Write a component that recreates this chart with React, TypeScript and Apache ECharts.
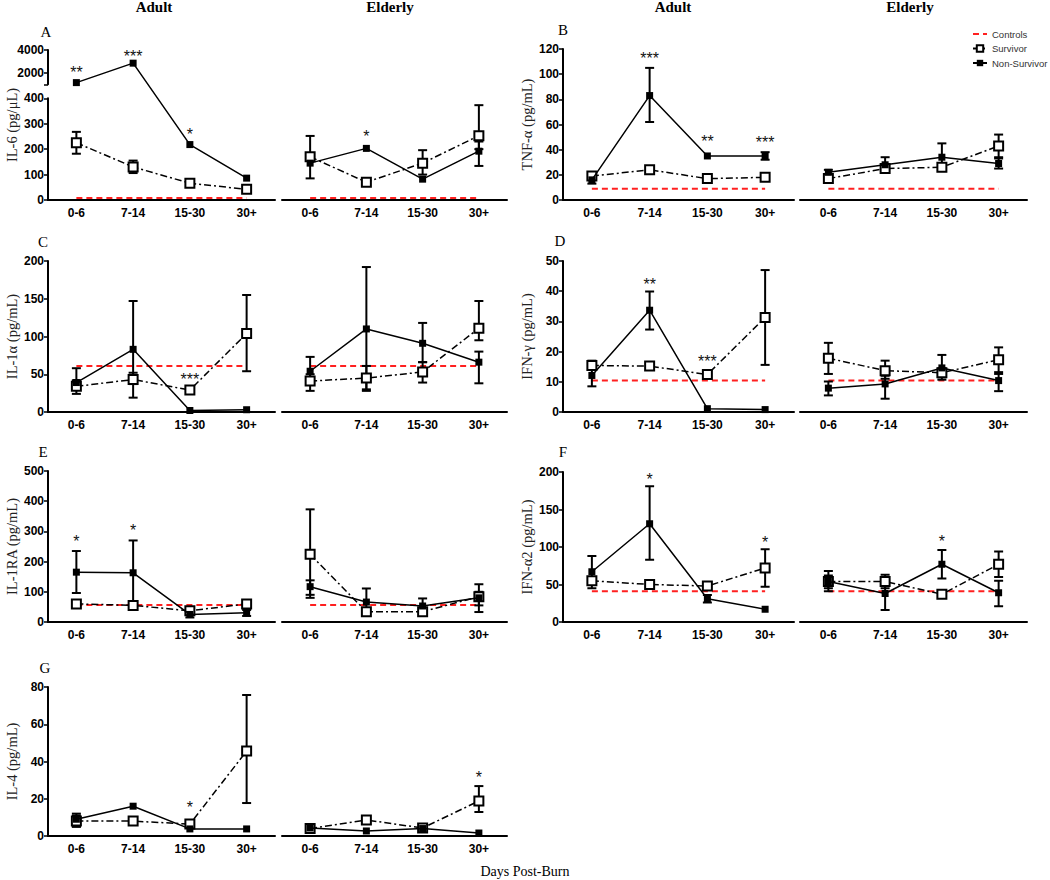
import React, { useEffect, useRef } from 'react';
import * as echarts from 'echarts';

const categories = ['0-6', '7-14', '15-30', '30+'];

// A: IL-6 (broken axis)
const il6AdultSurvivor = [225, 130, 66, 42];
const il6AdultSurvivorErr = [[182, 268], [106, 155], null, null];
const il6AdultNonSurvivor = [1150, 2850, 218, 86];
const il6AdultNonSurvivorErr = [null, null, null, null];
const il6AdultStars = [[0, 2400, '**'], [1, 3800, '***'], [2, 275, '*']];
const il6ElderlySurvivor = [170, 70, 145, 253];
const il6ElderlySurvivorErr = [[85, 252], [62, 80], [100, 196], [200, 373]];
const il6ElderlyNonSurvivor = [145, 203, 82, 192];
const il6ElderlyNonSurvivorErr = [null, null, null, [134, 230]];
const il6ElderlyStars = [[1, 265, '*']];
const il6Control = 8;

// B: TNF-alpha
const tnfAdultSurvivor = [19, 24, 17, 18];
const tnfAdultSurvivorErr = [[16, 22], [21, 26], null, null];
const tnfAdultNonSurvivor = [16, 83, 35, 35];
const tnfAdultNonSurvivorErr = [[13, 20], [62, 105], null, [32, 38]];
const tnfAdultStars = [[1, 116, '***'], [2, 50, '**'], [3, 49, '***']];
const tnfElderlySurvivor = [17, 25, 26, 43];
const tnfElderlySurvivorErr = [[15, 19], [22, 28], [23, 29], [34, 52]];
const tnfElderlyNonSurvivor = [22, 28, 34, 29];
const tnfElderlyNonSurvivorErr = [[20, 24], [22, 34], [25, 45], [25, 33]];
const tnfElderlyStars = [];
const tnfControl = 9;

// C: IL-1alpha
const il1aAdultSurvivor = [34, 43, 29, 104];
const il1aAdultSurvivorErr = [[24, 42], [37, 52], [27, 31], [54, 155]];
const il1aAdultNonSurvivor = [39, 83, 2, 3];
const il1aAdultNonSurvivorErr = [[30, 58], [19, 147], null, null];
const il1aAdultStars = [[2, 49, '***']];
const il1aElderlySurvivor = [41, 45, 53, 111];
const il1aElderlySurvivorErr = [[28, 50], [30, 61], [39, 66], [95, 147]];
const il1aElderlyNonSurvivor = [54, 110, 91, 66];
const il1aElderlyNonSurvivorErr = [[45, 73], [28, 192], [66, 118], [38, 80]];
const il1aElderlyStars = [];
const il1aControl = 61;

// D: IFN-gamma
const ifngAdultSurvivor = [15.4, 15.2, 12.4, 31.3];
const ifngAdultSurvivorErr = [[14, 17], [14, 16.5], [11, 13.8], [15.6, 47]];
const ifngAdultNonSurvivor = [12.1, 33.7, 1.1, 0.8];
const ifngAdultNonSurvivorErr = [[8.5, 14], [27.3, 39.9], null, null];
const ifngAdultStars = [[1, 43.5, '**'], [2, 18, '***']];
const ifngElderlySurvivor = [17.8, 13.7, 13, 17.3];
const ifngElderlySurvivorErr = [[12.6, 22.9], [11, 17], [11.5, 14.5], [13.2, 21.4]];
const ifngElderlyNonSurvivor = [7.9, 9.3, 14.6, 10.4];
const ifngElderlyNonSurvivorErr = [[5.5, 10.1], [4.4, 12], [10.7, 18.9], [6.9, 12.6]];
const ifngElderlyStars = [];
const ifngControl = 10.4;

// E: IL-1RA
const il1raAdultSurvivor = [60, 55, 37, 60];
const il1raAdultSurvivorErr = [[55, 66], [50, 58], [30, 42], [55, 65]];
const il1raAdultNonSurvivor = [165, 163, 25, 31];
const il1raAdultNonSurvivorErr = [[96, 235], [55, 270], [15, 35], [20, 40]];
const il1raAdultStars = [[0, 279, '*'], [1, 317, '*']];
const il1raElderlySurvivor = [224, 34, 34, 84];
const il1raElderlySurvivorErr = [[80, 373], [28, 40], [28, 40], [33, 125]];
const il1raElderlyNonSurvivor = [117, 66, 53, 80];
const il1raElderlyNonSurvivorErr = [[90, 138], [40, 111], [40, 78], [55, 100]];
const il1raElderlyStars = [];
const il1raControl = 56;

// F: IFN-alpha2
const ifna2AdultSurvivor = [55, 50, 48, 72];
const ifna2AdultSurvivorErr = [[45, 60], [46, 54], [44, 52], [47, 97]];
const ifna2AdultNonSurvivor = [67, 131, 31, 17];
const ifna2AdultNonSurvivorErr = [[50, 88], [83, 181], [26, 36], null];
const ifna2AdultStars = [[1, 196, '*'], [3, 112, '*']];
const ifna2ElderlySurvivor = [54, 54, 37, 77];
const ifna2ElderlySurvivorErr = [[41, 68], [45, 63], [34, 40], [60, 94]];
const ifna2ElderlyNonSurvivor = [54, 38, 77, 39];
const ifna2ElderlyNonSurvivorErr = [[45, 62], [16, 50], [58, 96], [21, 55]];
const ifna2ElderlyStars = [[2, 113, '*']];
const ifna2Control = 41;

// G: IL-4
const il4AdultSurvivor = [8, 8, 6.4, 45.6];
const il4AdultSurvivorErr = [[5, 11], [6.5, 9.5], [4.5, 8], [17.7, 75.7]];
const il4AdultNonSurvivor = [9, 16, 3.8, 3.8];
const il4AdultNonSurvivorErr = [[5, 12], null, null, null];
const il4AdultStars = [[2, 17.7, '*']];
const il4ElderlySurvivor = [4, 8.6, 4.3, 18.8];
const il4ElderlySurvivorErr = [null, [6.5, 10.5], null, [12.9, 26.8]];
const il4ElderlyNonSurvivor = [4.3, 2.7, 4, 1.6];
const il4ElderlyNonSurvivorErr = [null, null, null, null];
const il4ElderlyStars = [[3, 33.8, '*']];
const il4Control = null;

// Broken axis mapping for IL-6 (lower segment 0-400 linear, upper 1000-4000 compressed)
function tA(v: number) {
  return v <= 400 ? v : 455 + (v - 1000) * 0.045;
}
const ident = (v: number) => v;

const SANS = '"Liberation Sans", Arial, sans-serif';
const SERIF = '"Liberation Serif", "Times New Roman", serif';

const COLS = [
  { left: 48, width: 227 },
  { left: 282, width: 225 },
  { left: 563, width: 231 },
  { left: 800, width: 227 },
];

type Panel = {
  col: number; top: number; height: number; min: number; max: number; interval: number;
  name: string; adult: boolean; broken?: boolean;
  surv: number[]; survErr: any[]; ns: number[]; nsErr: any[]; ctrl: number | null; stars: any[];
};

const panels: Panel[] = [
  { col: 0, top: 50, height: 150, min: 0, max: 590, interval: 100, name: 'IL-6 (pg/μL)', adult: true, broken: true,
    surv: il6AdultSurvivor, survErr: il6AdultSurvivorErr, ns: il6AdultNonSurvivor, nsErr: il6AdultNonSurvivorErr, ctrl: il6Control, stars: il6AdultStars },
  { col: 1, top: 50, height: 150, min: 0, max: 590, interval: 100, name: '', adult: false, broken: true,
    surv: il6ElderlySurvivor, survErr: il6ElderlySurvivorErr, ns: il6ElderlyNonSurvivor, nsErr: il6ElderlyNonSurvivorErr, ctrl: il6Control, stars: il6ElderlyStars },
  { col: 2, top: 49, height: 151, min: 0, max: 120, interval: 20, name: 'TNF-α (pg/mL)', adult: true,
    surv: tnfAdultSurvivor, survErr: tnfAdultSurvivorErr, ns: tnfAdultNonSurvivor, nsErr: tnfAdultNonSurvivorErr, ctrl: tnfControl, stars: tnfAdultStars },
  { col: 3, top: 49, height: 151, min: 0, max: 120, interval: 20, name: '', adult: false,
    surv: tnfElderlySurvivor, survErr: tnfElderlySurvivorErr, ns: tnfElderlyNonSurvivor, nsErr: tnfElderlyNonSurvivorErr, ctrl: tnfControl, stars: tnfElderlyStars },
  { col: 0, top: 261, height: 151, min: 0, max: 200, interval: 50, name: 'IL-1α (pg/mL)', adult: true,
    surv: il1aAdultSurvivor, survErr: il1aAdultSurvivorErr, ns: il1aAdultNonSurvivor, nsErr: il1aAdultNonSurvivorErr, ctrl: il1aControl, stars: il1aAdultStars },
  { col: 1, top: 261, height: 151, min: 0, max: 200, interval: 50, name: '', adult: false,
    surv: il1aElderlySurvivor, survErr: il1aElderlySurvivorErr, ns: il1aElderlyNonSurvivor, nsErr: il1aElderlyNonSurvivorErr, ctrl: il1aControl, stars: il1aElderlyStars },
  { col: 2, top: 261, height: 151, min: 0, max: 50, interval: 10, name: 'IFN-γ (pg/mL)', adult: true,
    surv: ifngAdultSurvivor, survErr: ifngAdultSurvivorErr, ns: ifngAdultNonSurvivor, nsErr: ifngAdultNonSurvivorErr, ctrl: ifngControl, stars: ifngAdultStars },
  { col: 3, top: 261, height: 151, min: 0, max: 50, interval: 10, name: '', adult: false,
    surv: ifngElderlySurvivor, survErr: ifngElderlySurvivorErr, ns: ifngElderlyNonSurvivor, nsErr: ifngElderlyNonSurvivorErr, ctrl: ifngControl, stars: ifngElderlyStars },
  { col: 0, top: 471, height: 151, min: 0, max: 500, interval: 100, name: 'IL-1RA (pg/mL)', adult: true,
    surv: il1raAdultSurvivor, survErr: il1raAdultSurvivorErr, ns: il1raAdultNonSurvivor, nsErr: il1raAdultNonSurvivorErr, ctrl: il1raControl, stars: il1raAdultStars },
  { col: 1, top: 471, height: 151, min: 0, max: 500, interval: 100, name: '', adult: false,
    surv: il1raElderlySurvivor, survErr: il1raElderlySurvivorErr, ns: il1raElderlyNonSurvivor, nsErr: il1raElderlyNonSurvivorErr, ctrl: il1raControl, stars: il1raElderlyStars },
  { col: 2, top: 472, height: 150, min: 0, max: 200, interval: 50, name: 'IFN-α2 (pg/mL)', adult: true,
    surv: ifna2AdultSurvivor, survErr: ifna2AdultSurvivorErr, ns: ifna2AdultNonSurvivor, nsErr: ifna2AdultNonSurvivorErr, ctrl: ifna2Control, stars: ifna2AdultStars },
  { col: 3, top: 472, height: 150, min: 0, max: 200, interval: 50, name: '', adult: false,
    surv: ifna2ElderlySurvivor, survErr: ifna2ElderlySurvivorErr, ns: ifna2ElderlyNonSurvivor, nsErr: ifna2ElderlyNonSurvivorErr, ctrl: ifna2Control, stars: ifna2ElderlyStars },
  { col: 0, top: 687, height: 149, min: 0, max: 80, interval: 20, name: 'IL-4 (pg/mL)', adult: true,
    surv: il4AdultSurvivor, survErr: il4AdultSurvivorErr, ns: il4AdultNonSurvivor, nsErr: il4AdultNonSurvivorErr, ctrl: il4Control, stars: il4AdultStars },
  { col: 1, top: 687, height: 149, min: 0, max: 80, interval: 20, name: '', adult: false,
    surv: il4ElderlySurvivor, survErr: il4ElderlySurvivorErr, ns: il4ElderlyNonSurvivor, nsErr: il4ElderlyNonSurvivorErr, ctrl: il4Control, stars: il4ElderlyStars },
];

const axisLineStyle = { color: '#000', width: 2 };
const plain = (v: number) => String(v);

function buildOption() {
  const grid: any[] = [];
  const xAxis: any[] = [];
  const yAxis: any[] = [];
  const series: any[] = [];

  panels.forEach((p) => {
    const gi = grid.length;
    const c = COLS[p.col];
    const f = p.broken ? tA : ident;
    grid.push({ left: c.left, top: p.top, width: c.width, height: p.height });
    xAxis.push({
      gridIndex: gi, type: 'category', data: categories, boundaryGap: true,
      axisLine: { lineStyle: axisLineStyle },
      axisTick: { alignWithLabel: true, length: 4, lineStyle: { color: '#000', width: 1.5 } },
      axisLabel: { color: '#000', fontWeight: 'bold', fontSize: 12, fontFamily: SANS, margin: 7 },
    });
    const showY = p.adult && !p.broken;
    yAxis.push({
      gridIndex: gi, type: 'value', min: p.min, max: p.max, interval: p.interval,
      show: p.adult,
      name: p.name, nameLocation: 'middle', nameGap: 29, nameRotate: 90,
      nameTextStyle: { fontFamily: SERIF, fontSize: 14.5, color: '#222' },
      splitLine: { show: false },
      axisLine: { show: showY, lineStyle: axisLineStyle },
      axisTick: { show: showY, length: 4, lineStyle: { color: '#000', width: 1.5 } },
      axisLabel: { show: showY, color: '#000', fontWeight: 'bold', fontSize: 12, fontFamily: SANS, margin: 4, formatter: plain },
    });

    if (p.ctrl !== null) {
      series.push({
        name: 'Controls', type: 'line', xAxisIndex: gi, yAxisIndex: gi,
        data: categories.map(() => f(p.ctrl as number)),
        symbol: 'none', silent: true, z: 1,
        lineStyle: { color: '#ff2020', width: 2, type: [6, 4] },
        itemStyle: { color: '#ff2020' },
      });
    }

    const errData: any[] = [];
    p.survErr.forEach((e, i) => { if (e) errData.push([i, f(e[0]), f(e[1])]); });
    p.nsErr.forEach((e, i) => { if (e) errData.push([i, f(e[0]), f(e[1])]); });
    series.push({
      type: 'custom', xAxisIndex: gi, yAxisIndex: gi, silent: true, z: 2,
      encode: { x: 0, y: [1, 2] },
      data: errData,
      renderItem: (params: any, api: any) => {
        const x = api.value(0);
        const lo = api.coord([x, api.value(1)]);
        const hi = api.coord([x, api.value(2)]);
        const w = 4.5;
        const st = { stroke: '#000', lineWidth: 2 };
        return {
          type: 'group',
          children: [
            { type: 'line', shape: { x1: lo[0], y1: lo[1], x2: hi[0], y2: hi[1] }, style: st },
            { type: 'line', shape: { x1: hi[0] - w, y1: hi[1], x2: hi[0] + w, y2: hi[1] }, style: st },
            { type: 'line', shape: { x1: lo[0] - w, y1: lo[1], x2: lo[0] + w, y2: lo[1] }, style: st },
          ],
        };
      },
    });

    series.push({
      name: 'Survivor', type: 'line', xAxisIndex: gi, yAxisIndex: gi, z: 3,
      data: p.surv.map(f),
      symbol: 'rect', symbolSize: 9,
      lineStyle: { color: '#000', width: 1.5, type: [7, 3, 2, 3] },
      itemStyle: { color: '#fff', borderColor: '#000', borderWidth: 2 },
    });
    series.push({
      name: 'Non-Survivor', type: 'line', xAxisIndex: gi, yAxisIndex: gi, z: 4,
      data: p.ns.map(f),
      symbol: 'rect', symbolSize: 7,
      lineStyle: { color: '#000', width: 1.5 },
      itemStyle: { color: '#000' },
    });

    if (p.stars.length) {
      const texts = p.stars.map((s) => s[2]);
      series.push({
        type: 'custom', xAxisIndex: gi, yAxisIndex: gi, silent: true, z: 5,
        data: p.stars.map((s) => [s[0], f(s[1])]),
        renderItem: (params: any, api: any) => {
          const pt = api.coord([api.value(0), api.value(1)]);
          return {
            type: 'text', x: pt[0], y: pt[1] + 4,
            style: { text: texts[params.dataIndex], fontSize: 16, fontFamily: SANS, fill: '#111', align: 'center', verticalAlign: 'middle' },
          };
        },
      });
    }
  });

  // Broken axis segments for IL-6 adult
  const tickStyle = { length: 4, lineStyle: { color: '#000', width: 1.5 } };
  const labelStyle = { color: '#000', fontWeight: 'bold', fontSize: 12, fontFamily: SANS, margin: 4, formatter: plain };
  const segs = [
    { top: 50, height: 34.3, min: 1000, max: 4000, ticks: [1000, 2000, 4000], labels: [2000, 4000] },
    { top: 98.3, height: 101.7, min: 0, max: 400, ticks: [0, 100, 200, 300, 400], labels: [0, 100, 200, 300, 400] },
  ];
  segs.forEach((s) => {
    const gi = grid.length;
    grid.push({ left: COLS[0].left, top: s.top, width: 10, height: s.height });
    xAxis.push({ gridIndex: gi, type: 'value', show: false, min: 0, max: 1 });
    yAxis.push({
      gridIndex: gi, type: 'value', min: s.min, max: s.max,
      splitLine: { show: false },
      axisLine: { show: true, lineStyle: axisLineStyle },
      axisTick: { show: true, customValues: s.ticks, ...tickStyle },
      axisLabel: { show: true, customValues: s.labels, ...labelStyle },
    });
  });

  const txt = (text: string, x: number, y: number, font: any) => ({
    type: 'text', x, y, silent: true,
    style: { text, align: 'center', verticalAlign: 'middle', fill: '#000', ...font },
  });
  const header = { fontFamily: SERIF, fontSize: 15, fontWeight: 'bold' };
  const letter = { fontFamily: SERIF, fontSize: 15 };
  const graphic = [
    txt('Adult', 154, 7, header),
    txt('Elderly', 390, 7, header),
    txt('Adult', 673, 7, header),
    txt('Elderly', 910, 7, header),
    txt('A', 46, 32, letter),
    txt('B', 563, 30, letter),
    txt('C', 43, 242, letter),
    txt('D', 560, 241, letter),
    txt('E', 43, 452, letter),
    txt('F', 563, 452, letter),
    txt('G', 45, 668, letter),
    txt('Days Post-Burn', 525, 871, { fontFamily: SERIF, fontSize: 14 }),
  ];

  return {
    animation: false,
    backgroundColor: '#fff',
    grid, xAxis, yAxis, series, graphic,
    legend: {
      data: [
        { name: 'Controls', itemStyle: { opacity: 0 } },
        { name: 'Survivor' },
        { name: 'Non-Survivor' },
      ],
      orient: 'vertical', left: 972, top: 29, padding: 0,
      itemWidth: 14, itemHeight: 8, itemGap: 4.5,
      textStyle: { fontSize: 9.5, fontFamily: SANS, color: '#333', width: 70, overflow: 'none' },
      selectedMode: false,
    },
  };
}

export default function App() {
  const ref = useRef<HTMLDivElement>(null);
  useEffect(() => {
    if (!ref.current) return;
    const chart = echarts.init(ref.current, undefined, { renderer: 'svg' });
    chart.setOption(buildOption() as any);
    return () => chart.dispose();
  }, []);
  return <div ref={ref} style={{ position: 'absolute', left: 0, top: 0, width: 1050, height: 880 }} />;
}
